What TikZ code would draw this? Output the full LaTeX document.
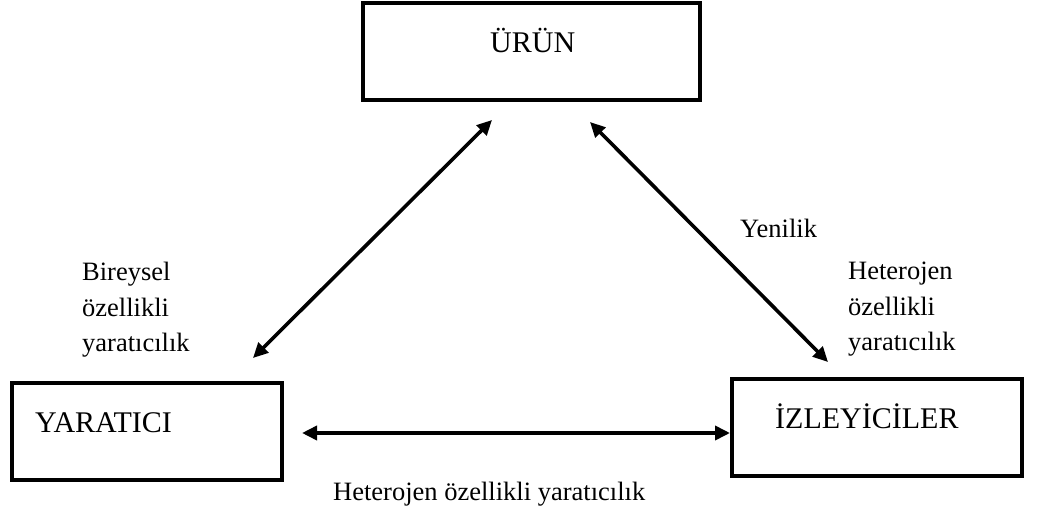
\documentclass[tikz,border=0pt]{standalone}
\usepackage{fontspec}
\setmainfont{Liberation Serif}
\usetikzlibrary{arrows.meta}
\begin{document}
\begin{tikzpicture}[x=1pt,y=-1pt,
  box/.style={draw,line width=4pt,inner sep=0pt},
  boxtext/.style={anchor=base west,inner sep=0pt,font=\fontsize{30}{36}\selectfont},
  lbl/.style={anchor=base west,inner sep=0pt,font=\fontsize{26.5}{35.5}\selectfont,align=left},
  biarrow/.style={line width=3.6pt,{Triangle[length=15pt,width=14pt]}-{Triangle[length=15pt,width=14pt]}}]
\useasboundingbox (0,0) rectangle (1040,513);
% boxes
\node[box,minimum width=337pt,minimum height=97pt] (urun) at (531.5,51.5) {};
\node[box,minimum width=270pt,minimum height=97pt] (yaratici) at (147,431.5) {};
\node[box,minimum width=290pt,minimum height=97pt] (izleyici) at (877,427.5) {};
% box texts
\node[boxtext] (turun) at (490,53) {ÜRÜN};
\node[boxtext] (tyaratici) at (35,432) {YARATICI};
\node[boxtext] (tizleyici) at (775,428) {İZLEYİCİLER};
% arrow ends
\coordinate (a1) at (492,120);
\coordinate (a2) at (253,358);
\coordinate (b1) at (590,122);
\coordinate (b2) at (828,362);
\coordinate (c1) at (302,433);
\draw[biarrow] (a2) -- (a1);
\draw[biarrow] (b1) -- (b2);
\draw[biarrow] (c1) -- (izleyici.west |- c1);
% labels
\node[lbl] (yenilik) at (740,237) {Yenilik};
\node[lbl,anchor=north west] (bireysel) at (82,262) {Bireysel\\özellikli\\yaratıcılık};
\node[lbl,anchor=north west] (hetero) at (848,262) {Heterojen\\özellikli\\yaratıcılık};
\node[lbl] (bottom) at (333,500) {Heterojen özellikli yaratıcılık};
\end{tikzpicture}
\end{document}
